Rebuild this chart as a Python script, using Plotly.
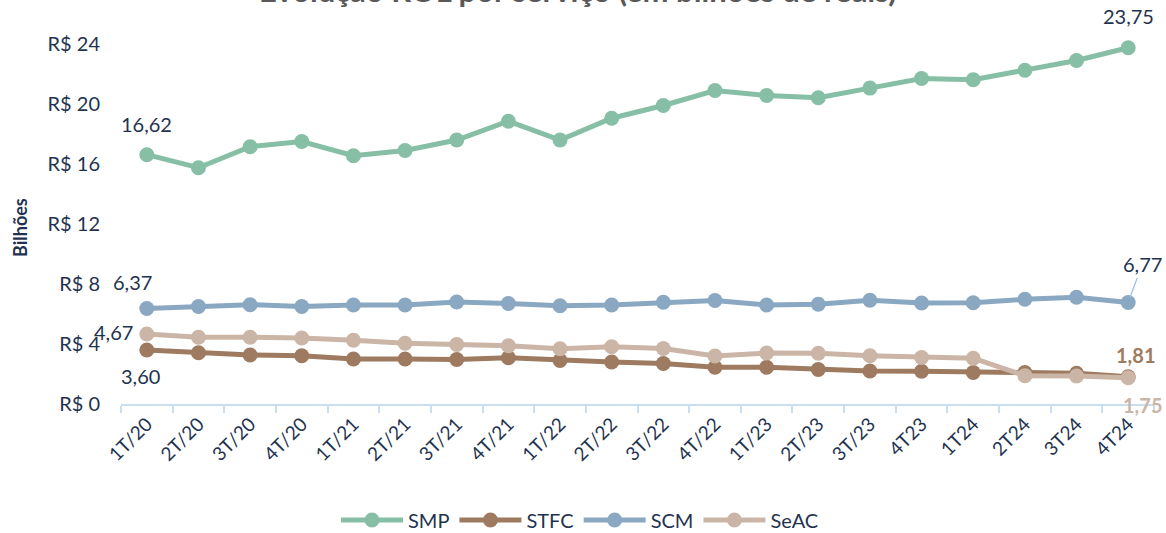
import plotly.graph_objects as go

categories = ["1T/20", "2T/20", "3T/20", "4T/20", "1T/21", "2T/21", "3T/21", "4T/21",
              "1T/22", "2T/22", "3T/22", "4T/22", "1T/23", "2T/23", "3T/23", "4T23",
              "1T24", "2T24", "3T24", "4T24"]

smp = [16.62, 15.75, 17.15, 17.5, 16.55, 16.9, 17.6, 18.85, 17.6, 19.05, 19.9, 20.9,
       20.57, 20.42, 21.06, 21.7, 21.62, 22.25, 22.9, 23.75]
stfc = [3.60, 3.42, 3.27, 3.22, 3.0, 3.0, 2.97, 3.08, 2.9, 2.8, 2.7, 2.45,
        2.45, 2.3, 2.2, 2.18, 2.1, 2.1, 2.05, 1.81]
scm = [6.37, 6.5, 6.62, 6.5, 6.6, 6.6, 6.8, 6.7, 6.55, 6.6, 6.78, 6.9,
       6.6, 6.65, 6.92, 6.73, 6.75, 6.98, 7.12, 6.77]
seac = [4.67, 4.45, 4.45, 4.4, 4.25, 4.05, 3.97, 3.88, 3.68, 3.82, 3.7, 3.2,
        3.4, 3.38, 3.22, 3.1, 3.05, 1.89, 1.87, 1.75]

series_names = ["SMP", "STFC", "SCM", "SeAC"]
series_values = [smp, stfc, scm, seac]
colors = ["#86bfa5", "#9e7b60", "#8aa8c2", "#cbb5a6"]

y_ticks = [0, 4, 8, 12, 16, 20, 24]
y_ticktext = ["R$ " + str(v) for v in y_ticks]

FONT = "Lato"
NAVY = "#1f3350"
Y_MAX = 25.6

fig = go.Figure()
for name, vals, col in zip(series_names, series_values, colors):
    fig.add_trace(go.Scatter(
        x=categories, y=vals, name=name, mode="lines+markers",
        line=dict(color=col, width=5),
        marker=dict(color=col, size=15),
        hoverinfo="skip",
    ))

def fmt(v):
    return f"{v:.2f}".replace(".", ",")

ann = []
def lab(cat, val, xs, ys, color=NAVY, bold=False):
    t = fmt(val)
    if bold:
        t = "<b>" + t + "</b>"
    ann.append(dict(x=cat, y=val, xref="x", yref="y", text=t, showarrow=False,
                    xshift=xs, yshift=ys, font=dict(family=FONT, size=20, color=color)))

lab(categories[0], smp[0], 0, 31)
lab(categories[-1], smp[-1], 0, 32)
lab(categories[0], scm[0], -14, 26)
lab(categories[0], seac[0], -33, 2)
lab(categories[0], stfc[0], -6, -26)
lab(categories[-1], stfc[-1], 7, 22, color="#9e7b60", bold=True)
lab(categories[-1], seac[-1], 14, -27, color="#cbb5a6", bold=True)
ann.append(dict(x=categories[-1], y=scm[-1], xref="x", yref="y", text=fmt(scm[-1]),
                showarrow=True, arrowhead=0, arrowwidth=1.3, arrowcolor="#9dc3e6",
                ax=14, ay=-38, standoff=5,
                font=dict(family=FONT, size=20, color=NAVY)))

# title (mostly above the visible canvas, as in the reference)
ann.append(dict(xref="paper", yref="paper", x=(578 - 121) / 1033, y=1 + 30 / 384,
                xanchor="center", yanchor="middle", showarrow=False,
                text="<b>Evolução ROL por serviço (em bilhões de reais)</b>",
                font=dict(family=FONT, size=31, color="#595959")))
# y-axis title
ann.append(dict(xref="paper", yref="paper", x=(20 - 121) / 1033, y=(404 - 228) / 384,
                xanchor="center", yanchor="middle", showarrow=False, textangle=-90,
                text="<b>Bilhões</b>",
                font=dict(family=FONT, size=18, color=NAVY)))

fig.update_layout(
    width=1166, height=533,
    margin=dict(l=121, r=12, t=20, b=129, autoexpand=False),
    paper_bgcolor="white", plot_bgcolor="white",
    font=dict(family=FONT, color=NAVY),
    showlegend=True,
    legend=dict(orientation="h", x=(580 - 121) / 1033, xanchor="center",
                y=-116 / 384, yanchor="middle",
                font=dict(family=FONT, size=20, color=NAVY), itemwidth=62,
                traceorder="normal"),
    annotations=ann,
    xaxis=dict(type="category", range=[-0.5, 19.5], tickson="boundaries",
               ticks="outside", ticklen=7, tickcolor="#c9dff0", tickwidth=1.5,
               showline=True, linecolor="#c9dff0", linewidth=1.5,
               showgrid=False, zeroline=False, tickangle=-45, automargin=False,
               tickfont=dict(family=FONT, size=19, color=NAVY)),
    yaxis=dict(range=[0, Y_MAX], tickvals=y_ticks, ticktext=y_ticktext,
               showgrid=False, zeroline=False, showline=False, automargin=False,
               tickfont=dict(family=FONT, size=20, color=NAVY), ticks="",
               ticklabelstandoff=20),
)

fig.write_html("out.html", config={"displayModeBar": False},
               post_script="document.body.style.margin='0';document.body.style.overflow='hidden';")
